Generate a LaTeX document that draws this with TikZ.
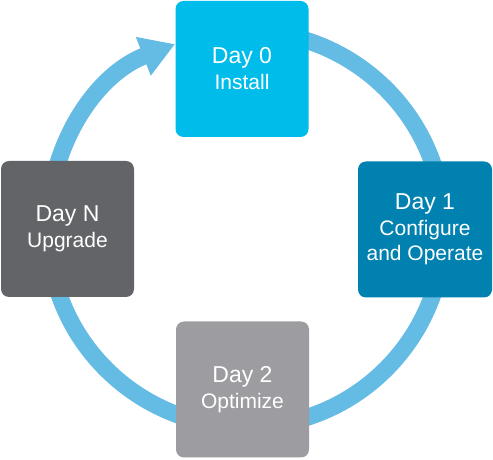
\documentclass[tikz,border=0pt]{standalone}
\usepackage{fontspec}
\setmainfont{Liberation Sans}
\usetikzlibrary{arrows.meta}

\definecolor{ringblue}{HTML}{64BBE3}
\definecolor{dayzero}{HTML}{00BCEB}
\definecolor{dayone}{HTML}{0081B0}
\definecolor{daytwo}{HTML}{9D9CA1}
\definecolor{dayn}{HTML}{636468}

\tikzset{
  daybox/.style={rounded corners=8pt, minimum width=133pt, minimum height=136pt,
    align=center, text=white, inner sep=0pt, font=\fontsize{21}{25}\selectfont},
}
\newcommand{\daytitle}[1]{{\fontsize{23}{26}\selectfont #1}\\[1pt]}

\begin{document}
\begin{tikzpicture}[x=1pt,y=1pt]

  \def\R{198}   % ring radius
  \def\CX{246}  % ring centre
  \def\CY{231}

  \useasboundingbox (0,0) rectangle (493,460);

  % Draw the ring with the arrow at the end
  \coordinate (ctr) at (\CX,\CY);
  \draw[ringblue, line width=17pt, -{Triangle[length=34pt,width=39pt]}]
    (ctr) ++(100:\R) arc[start angle=100, end angle=-249, radius=\R];

  % The four stages
  \node[daybox, fill=dayzero] (day0) at (242,391)
    {\daytitle{Day 0}Install};
  \node[daybox, fill=dayone, minimum width=134pt] (day1) at (425,230.5)
    {\daytitle{Day 1}Configure\\ and Operate};
  \node[daybox, fill=daytwo] (day2) at (242.5,70.5)
    {\daytitle{Day 2}Optimize};
  \node[daybox, fill=dayn] (dayN) at (67.5,231)
    {\daytitle{Day N}Upgrade};

\end{tikzpicture}
\end{document}
